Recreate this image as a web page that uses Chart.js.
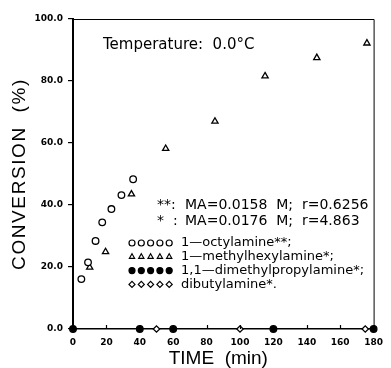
<!DOCTYPE html>
<html>
<head>
<meta charset="utf-8">
<script src="https://cdn.jsdelivr.net/npm/chart.js@4.4.0/dist/chart.umd.min.js"></script>
<style>
  html, body { margin: 0; padding: 0; background: #fff; }
  #wrap { width: 391px; height: 368px; }
</style>
</head>
<body>
<div id="wrap"><canvas id="chart" width="391" height="368"></canvas></div>
<script>
// data (time in min, conversion in %)
const octylTime = [5, 9, 13.5, 17.5, 23, 29, 36];
const octylConv = [16.1, 21.5, 28.4, 34.4, 38.7, 43.2, 48.3];
const methylhexylTime = [10, 19.5, 35, 55.5, 85, 115, 146, 176];
const methylhexylConv = [19.9, 24.9, 43.5, 58.2, 67.0, 81.6, 87.5, 92.2];
const dimethylpropylTime = [0, 40, 60, 120, 180];
const dimethylpropylConv = [0, 0, 0, 0, 0];
const dibutylTime = [50, 100, 175];
const dibutylConv = [0, 0, 0];
const xTicks = [0, 20, 40, 60, 80, 100, 120, 140, 160, 180];
const yTicks = [0, 20, 40, 60, 80, 100];

const legendNames = ['1—octylamine**;', '1—methylhexylamine*;', '1,1—dimethylpropylamine*;', 'dibutylamine*.'];
const noteLines = [['**:', 'MA=0.0158  M;  r=0.6256'], ['*  :', 'MA=0.0176  M;  r=4.863']];

function pts(xs, ys) {
    return xs.map((x, i) => ({ x: x, y: ys[i] }));
}

const markers = [
    { style: 'circle', fill: '#fff', r: 3.3 },
    { style: 'triangle', fill: '#fff', r: 3.6 },
    { style: 'circle', fill: '#000', r: 3.3 },
    { style: 'rectRot', fill: '#fff', r: 3.2 }
];

function makeSet(label, xs, ys, m) {
    return {
        label: label,
        data: pts(xs, ys),
        showLine: false,
        pointStyle: m.style,
        pointRadius: m.r,
        pointBorderWidth: 1.3,
        pointBorderColor: '#000',
        pointBackgroundColor: m.fill,
        clip: false
    };
}

// box, inward x ticks, axis titles, notes and the hand made legend
const extras = {
    id: 'extras',
    afterDraw(chart) {
        const ctx = chart.ctx;
        const a = chart.chartArea;
        const xs = chart.scales.x;
        ctx.save();
        ctx.strokeStyle = '#000';
        ctx.lineWidth = 1;
        ctx.beginPath();
        ctx.moveTo(a.left, a.top + 0.5);
        ctx.lineTo(a.right + 0.5, a.top + 0.5);
        ctx.lineTo(a.right + 0.5, a.bottom);
        ctx.stroke();
        ctx.lineWidth = 1.2;
        xTicks.forEach(t => {
            const px = Math.round(xs.getPixelForValue(t)) + 0.5;
            ctx.beginPath();
            ctx.moveTo(px, a.bottom);
            ctx.lineTo(px, a.bottom - 4);
            ctx.stroke();
        });

        ctx.fillStyle = '#000';

        // axis titles
        ctx.textBaseline = 'alphabetic';
        ctx.textAlign = 'center';
        ctx.font = '19px "Liberation Sans", Arial, sans-serif';
        ctx.fillText('TIME  (min)', (a.left + a.right) / 2 - 5, 364);
        ctx.save();
        ctx.translate(25, (a.top + a.bottom) / 2);
        ctx.rotate(-Math.PI / 2);
        ctx.letterSpacing = '1.6px';
        ctx.fillText('CONVERSION  (%)', 0, 0);
        ctx.restore();

        ctx.textAlign = 'left';
        ctx.textBaseline = 'middle';
        ctx.font = '15px "DejaVu Sans", sans-serif';
        ctx.fillText('Temperature:  0.0°C', 103, 45);

        ctx.font = '14px "DejaVu Sans", sans-serif';
        noteLines.forEach((ln, i) => {
            const y = 205 + i * 16.5;
            ctx.fillText(ln[0], 157, y);
            ctx.fillText(ln[1], 185, y);
        });

        ctx.font = '13px "DejaVu Sans", sans-serif';
        legendNames.forEach((name, i) => {
            const y = 243 + i * 13.8;
            const m = markers[i];
            for (let k = 0; k < 5; k++) {
                ctx.fillStyle = m.fill;
                ctx.strokeStyle = '#000';
                ctx.lineWidth = 1.2;
                Chart.helpers.drawPoint(ctx, {
                    pointStyle: m.style, radius: 3, borderWidth: 1.2, rotation: 0
                }, 132 + k * 9.3, y);
            }
            ctx.fillStyle = '#000';
            ctx.fillText(name, 181, y);
        });
        ctx.restore();
    }
};

new Chart(document.getElementById('chart'), {
    type: 'scatter',
    data: {
        datasets: [
            makeSet('1-octylamine', octylTime, octylConv, markers[0]),
            makeSet('1-methylhexylamine', methylhexylTime, methylhexylConv, markers[1]),
            makeSet('1,1-dimethylpropylamine', dimethylpropylTime, dimethylpropylConv, markers[2]),
            makeSet('dibutylamine', dibutylTime, dibutylConv, markers[3])
        ]
    },
    options: {
        responsive: false,
        animation: false,
        layout: { padding: { top: 19, right: 9, left: 0, bottom: 0 } },
        plugins: { legend: { display: false }, tooltip: { enabled: false } },
        scales: {
            x: {
                type: 'linear',
                min: 0,
                max: 180,
                afterBuildTicks: s => { s.ticks = xTicks.map(v => ({ value: v })); },
                afterFit: s => { s.height = 39; },
                grid: { drawOnChartArea: false, drawTicks: false },
                border: { color: '#000', width: 1.5 },
                ticks: {
                    color: '#000', padding: 8,
                    font: { family: 'DejaVu Sans', size: 9, weight: 'bold' },
                    maxRotation: 0, autoSkip: false
                },
                title: { display: false }
            },
            y: {
                type: 'linear',
                min: 0,
                max: 100,
                afterBuildTicks: s => { s.ticks = yTicks.map(v => ({ value: v })); },
                afterFit: s => { s.width = 73; },
                grid: { drawOnChartArea: false, drawTicks: true, tickLength: 5, color: '#000', lineWidth: 1.2 },
                border: { color: '#000', width: 2 },
                ticks: {
                    color: '#000', padding: 5,
                    font: { family: 'DejaVu Sans', size: 9, weight: 'bold' },
                    callback: v => v.toFixed(1)
                },
                title: { display: false }
            }
        }
    },
    plugins: [extras]
});
</script>
</body>
</html>
